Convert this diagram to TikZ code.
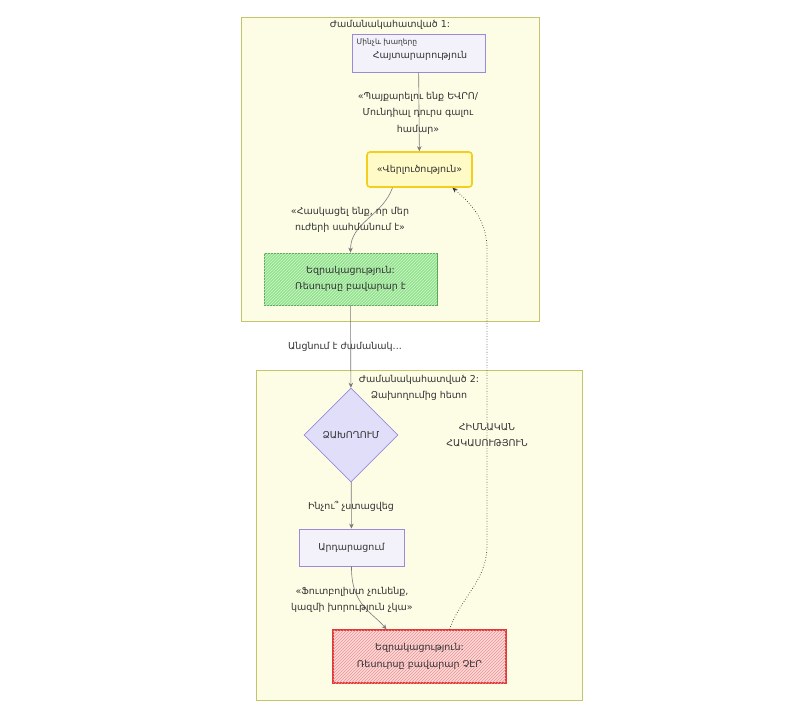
\documentclass[tikz,border=0pt]{standalone}
\usepackage{fontspec}
\setmainfont[Script=Armenian]{DejaVu Sans}
\usetikzlibrary{shapes.geometric,arrows.meta,patterns}
\definecolor{clusterfill}{HTML}{FDFDE6}
\definecolor{clusterline}{HTML}{C4C46A}
\definecolor{nodefill}{HTML}{F3F2FB}
\definecolor{nodeline}{HTML}{9C8AD8}
\definecolor{diafill}{HTML}{E0DEF9}
\definecolor{anafill}{HTML}{FFFAC6}
\definecolor{analine}{HTML}{F2CF1E}
\definecolor{okfill}{HTML}{92E38E}
\definecolor{okline}{HTML}{55A653}
\definecolor{badfill}{HTML}{FBD9D9}
\definecolor{badline}{HTML}{E2383A}
\definecolor{edgegray}{HTML}{7A7A7A}
\definecolor{textgray}{HTML}{333333}

\begin{document}
\begin{tikzpicture}[x=1pt, y=-1pt, font=\fontsize{9.5}{16.5}\selectfont, text=textgray,
  cluster/.style={draw=clusterline, fill=clusterfill, line width=0.7pt},
  plain/.style={draw=nodeline, fill=nodefill, line width=0.8pt, align=center},
  edge/.style={draw=edgegray, line width=0.6pt, -{Stealth[length=5pt,width=4.5pt]}},
  lbl/.style={align=center}] %two periods, before and after failure
\useasboundingbox (0,0) rectangle (800,710);
% period 1
\node[cluster, minimum width=298pt, minimum height=304pt] (period1) at (390,169) {};
\node (title1) at (390,25) {Ժամանակահատված 1:};
\node[plain, minimum width=133pt, minimum height=38pt] (claim) at (418.5,53) {};
\node[anchor=west, font=\fontsize{7.5}{9}\selectfont] (claimtop) at (353,42) {Մինչև խաղերը};
\node (claimtext) at (420,56) {Հայտարարություն};
\node[draw=analine, fill=anafill, line width=1.6pt, rounded corners=3pt, minimum width=105pt, minimum height=35pt] (ana) at (419.5,169.5) {«Վերլուծություն»};
\node[draw=okline, fill=okfill, line width=0.8pt, minimum width=173pt, minimum height=52pt, align=center,
  postaction={pattern=north east lines, pattern color=okfill!40!white}] (res1) at (350.5,279) {Եզրակացություն:\\Ռեսուրսը բավարար է};
% period 2
\node[cluster, minimum width=326pt, minimum height=330pt] (period2) at (419,535) {};
\node[lbl] (title2) at (419,388) {Ժամանակահատված 2:\\Ձախողումից հետո};
\node[diamond, draw=nodeline, fill=diafill, line width=0.8pt, minimum width=94pt, minimum height=94pt, inner sep=0pt] (fail) at (351,435) {ՁԱԽՈՂՈՒՄ};
\node[plain, minimum width=105pt, minimum height=37pt] (just) at (351.5,547.5) {Արդարացում};
\node[draw=badline, fill=badfill, line width=1.4pt, minimum width=173pt, minimum height=53pt, align=center,
  postaction={pattern=north east lines, pattern color=badline!55!white}] (res2) at (419.5,656.5) {Եզրակացություն:\\Ռեսուրսը բավարար ՉԷՐ};
% connectors
\draw[edge] (claim) -- (ana);
\node[lbl] (lbl1) at (418,113) {«Պայքարելու ենք ԵՎՐՈ/\\Մունդիալ դուրս գալու\\համար»};
\draw[edge] ([xshift=-27pt]ana.south) to[out=-110,in=90] (res1.north);
\node[lbl] (lbl2) at (350,220) {«Հասկացել ենք, որ մեր\\ուժերի սահմանում է»};
\draw[edge] (res1) -- (fail);
\node (lbl3) at (345,347) {Անցնում է ժամանակ...};
\draw[edge] (fail) -- (just);
\node (lbl4) at (351,506) {Ինչու՞ չստացվեց};
\draw[edge] (just.south) .. controls (351,605) and (372,612) .. ([xshift=-33pt]res2.north);
\node[lbl] (lbl5) at (352,600) {«Ֆուտբոլիստ չունենք,\\կազմի խորություն չկա»};
\coordinate (bendlow) at (487,545);
\coordinate (bendhigh) at (487,250);
\draw[edge, dotted, line width=0.8pt, draw=textgray] ([xshift=30pt]res2.north) to[out=70,in=-90] (bendlow) -- (bendhigh) to[out=90,in=-40] ([xshift=33pt]ana.south);
\node[lbl] (lbl6) at (487,435) {ՀԻՄՆԱԿԱՆ\\ՀԱԿԱՍՈՒԹՅՈՒՆ};
\end{tikzpicture}
\end{document}
